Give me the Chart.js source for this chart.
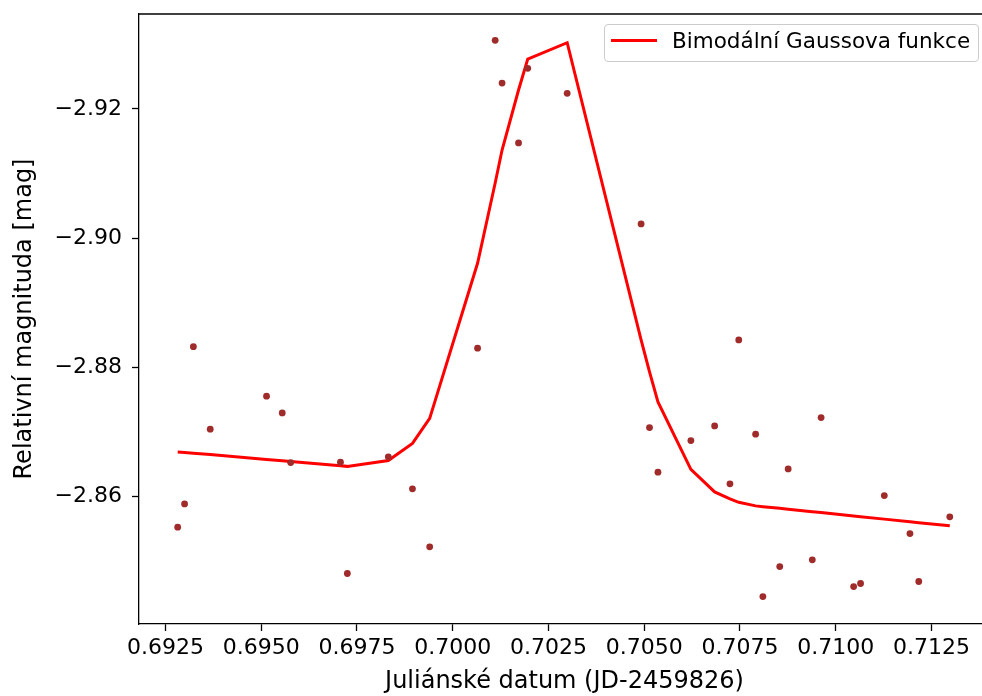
<!DOCTYPE html>
<html>
<head>
<meta charset="utf-8">
<title>Bimodální Gaussova funkce</title>
<script src="https://cdn.jsdelivr.net/npm/chart.js@4.4.1/dist/chart.umd.min.js"></script>
<style>
    html, body {
        margin: 0;
        padding: 0;
        overflow: hidden;
        background: white;
    }
    #wrap {
        position: relative;
        width: 982px;
        height: 696px;
        overflow: hidden;
    }
    #lightCurve {
        display: block;
    }
    #legend {
        position: absolute;
        left: 604px;
        top: 24px;
        width: 373px;
        height: 36px;
        border: 1px solid #cccccc;
        border-radius: 4px;
        background: rgba(255, 255, 255, 0.8);
        font-family: "DejaVu Sans", sans-serif;
        font-size: 21.5px;
        color: #000;
    }
    #legend .swatch {
        position: absolute;
        left: 6px;
        top: 14px;
        width: 46px;
        height: 3px;
    }
    #legend .label {
        position: absolute;
        left: 67px;
        top: 5px;
        line-height: 22px;
        white-space: nowrap;
    }
</style>
</head>
<body>
<div id="wrap">
    <!-- the axes box ends at x=990, past the 982px frame, so the right edge is cut off as in the original -->
    <canvas id="lightCurve" width="990" height="696"></canvas>
    <div id="legend"></div>
</div>
<script>
// Měření (JD - 2459826) a relativní magnituda
const jdValues = [
    0.70111, 0.70129, 0.70196, 0.70172, 0.70299, 0.70492,
    0.69323, 0.69514, 0.69555, 0.69367, 0.69577, 0.69707,
    0.69832, 0.69895, 0.69300, 0.69282, 0.69940, 0.69725,
    0.70065, 0.70747, 0.70962, 0.70514, 0.70684, 0.70791,
    0.70622, 0.70536, 0.70876, 0.70724, 0.71127, 0.71298,
    0.71194, 0.70939, 0.70854, 0.71047, 0.71065, 0.71217,
    0.70810
];
const magValues = [
    -2.93063, -2.92402, -2.92630, -2.91474, -2.92243, -2.90220,
    -2.88320, -2.87553, -2.87294, -2.87042, -2.86525, -2.86531,
    -2.86613, -2.86118, -2.85885, -2.85525, -2.85220, -2.84807,
    -2.88296, -2.88424, -2.87221, -2.87067, -2.87093, -2.86964,
    -2.86865, -2.86376, -2.86427, -2.86195, -2.86014, -2.85684,
    -2.85426, -2.85019, -2.84915, -2.84605, -2.84652, -2.84683,
    -2.84450
];

// Fit evaluated at the sorted times
const fitJd = [
    0.69282, 0.69300, 0.69323, 0.69367, 0.69514, 0.69555, 0.69577,
    0.69707, 0.69725, 0.69832, 0.69895, 0.69940, 0.70065, 0.70111,
    0.70129, 0.70172, 0.70196, 0.70299, 0.70492, 0.70514, 0.70536,
    0.70622, 0.70684, 0.70724, 0.70747, 0.70791, 0.70810, 0.70854,
    0.70876, 0.70939, 0.70962, 0.71047, 0.71065, 0.71127, 0.71194,
    0.71217, 0.71298
];
const fitMag = [
    -2.86690, -2.86681, -2.86670, -2.86649, -2.86574, -2.86554, -2.86542,
    -2.86477, -2.86466, -2.86556, -2.86822, -2.87209, -2.89611, -2.90854,
    -2.91365, -2.92294, -2.92774, -2.93026, -2.88424, -2.87929, -2.87464,
    -2.86420, -2.86071, -2.85963, -2.85909, -2.85854, -2.85842, -2.85817,
    -2.85803, -2.85765, -2.85751, -2.85698, -2.85687, -2.85649, -2.85608,
    -2.85594, -2.85545
];

const xTicks = [0.6925, 0.6950, 0.6975, 0.7000, 0.7025, 0.7050, 0.7075, 0.7100, 0.7125];
const yTicks = [-2.92, -2.90, -2.88, -2.86];

const fitLabel = 'Bimodální Gaussova funkce';

const tickFont = { family: 'DejaVu Sans', size: 22 };
const titleFont = { family: 'DejaVu Sans', size: 24 };

// top spine
const topSpine = {
    id: 'topSpine',
    afterDraw(chart) {
        const { ctx, chartArea } = chart;
        ctx.save();
        ctx.strokeStyle = '#000';
        ctx.lineWidth = 1.3;
        ctx.beginPath();
        ctx.moveTo(chartArea.left, chartArea.top);
        ctx.lineTo(chartArea.right, chartArea.top);
        ctx.stroke();
        ctx.restore();
    }
};

// no extra room for the tick labels, the axes box is fixed
function noLabelPadding(scale) {
    scale.paddingTop = 0;
    scale.paddingBottom = 0;
    scale.paddingLeft = 0;
    scale.paddingRight = 0;
}

const ctx = document.getElementById('lightCurve').getContext('2d');

const lightCurveChart = new Chart(ctx, {
    type: 'scatter',
    data: {
        datasets: [{
            label: 'Měření',
            data: jdValues.map((x, i) => ({ x: x, y: magValues[i] })),
            backgroundColor: '#a02b2b',
            borderWidth: 0,
            pointRadius: 3.4,
            showLine: false
        }, {
            label: fitLabel,
            data: fitJd.map((x, i) => ({ x: x, y: fitMag[i] })),
            borderColor: '#ff0000',
            borderWidth: 3,
            pointRadius: 0,
            showLine: true,
            tension: 0
        }]
    },
    options: {
        responsive: false,
        animation: false,
        layout: {
            autoPadding: false,
            padding: { top: 14, left: 0, right: 0, bottom: 0 }
        },
        scales: {
            x: {
                type: 'linear',
                min: 0.69181,
                max: 0.71403,
                afterBuildTicks: (scale) => {
                    scale.ticks = xTicks.map(v => ({ value: v }));
                },
                afterFit: (scale) => {
                    scale.height = 72;
                    noLabelPadding(scale);
                },
                ticks: {
                    color: '#000',
                    font: tickFont,
                    padding: 4,
                    maxRotation: 0,
                    autoSkip: false,
                    callback: (value) => value.toFixed(4)
                },
                grid: {
                    drawOnChartArea: false,
                    tickLength: 7,
                    tickColor: '#000',
                    tickWidth: 1.3
                },
                border: {
                    color: '#000',
                    width: 1.3
                },
                title: {
                    display: true,
                    text: 'Juliánské datum (JD-2459826)',
                    color: '#000',
                    font: titleFont,
                    padding: { top: 0, bottom: 0 }
                }
            },
            y: {
                type: 'linear',
                reverse: true,
                min: -2.93471,
                max: -2.84025,
                afterBuildTicks: (scale) => {
                    scale.ticks = yTicks.map(v => ({ value: v }));
                },
                afterFit: (scale) => {
                    scale.width = 139;
                    noLabelPadding(scale);
                },
                ticks: {
                    color: '#000',
                    font: tickFont,
                    padding: 10,
                    callback: (value) => value.toFixed(2).replace('-', '\u2212')
                },
                grid: {
                    drawOnChartArea: false,
                    tickLength: 7,
                    tickColor: '#000',
                    tickWidth: 1.3
                },
                border: {
                    color: '#000',
                    width: 1.3
                },
                title: {
                    display: true,
                    text: 'Relativní magnituda [mag]',
                    color: '#000',
                    font: titleFont,
                    padding: { top: 10, bottom: 0 }
                }
            }
        },
        plugins: {
            legend: {
                display: false
            },
            tooltip: {
                enabled: false
            }
        }
    },
    plugins: [topSpine]
});

// Legend in the top right corner of the axes
const legendBox = document.getElementById('legend');
const fitSet = lightCurveChart.data.datasets[1];
legendBox.innerHTML =
    `<span class="swatch" style="background:${fitSet.borderColor}"></span>` +
    `<span class="label">${fitSet.label}</span>`;
</script>
</body>
</html>
